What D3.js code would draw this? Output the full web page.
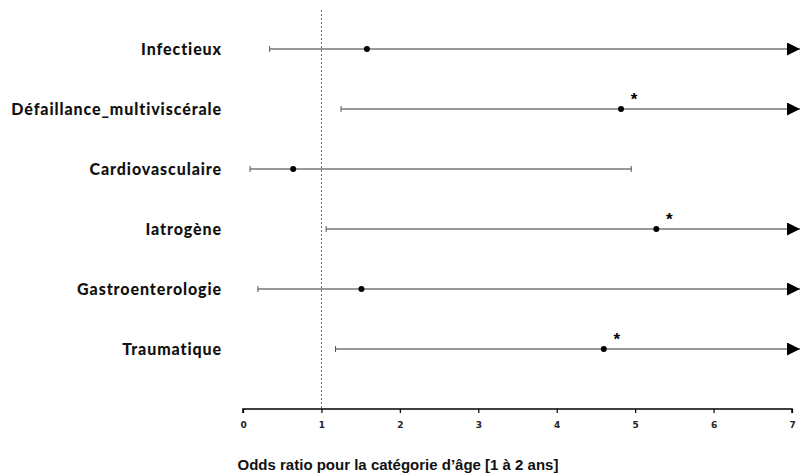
<!DOCTYPE html>
<html><head><meta charset="utf-8">
<script src="https://cdn.jsdelivr.net/npm/d3@7"></script>
<style>body{margin:0;background:#fff}</style>
</head><body>
<svg id="c" width="800" height="474"></svg>
<script>
const categories = ["Infectieux","Défaillance_multiviscérale","Cardiovasculaire","Iatrogène","Gastroenterologie","Traumatique"];
const oddsRatio = [1.58, 4.82, 0.64, 5.27, 1.51, 4.6];
const lowerCI = [0.34, 1.25, 0.09, 1.06, 0.19, 1.18];
const upperCI = [null, null, 4.95, null, null, null]; // null = beyond axis (arrow)
const significant = [false, true, false, true, false, true];
const xTicks = [0,1,2,3,4,5,6,7];
const refLine = 1;
const xTitle = "Odds ratio pour la catégorie d’âge [1 à 2 ans]";

const svg = d3.select("#c");
const x = d3.scaleLinear().domain([0,7]).range([243,792]);
const y = d3.scalePoint().domain(categories).range([49,349]);
const axisY = 409;
const arrowEnd = 800;

svg.append("defs").append("marker").attr("id","arr")
  .attr("viewBox","0 0 10 10").attr("refX",10).attr("refY",5)
  .attr("markerWidth",15).attr("markerHeight",13).attr("markerUnits","userSpaceOnUse")
  .attr("orient","auto")
  .append("path").attr("d","M0,0L10,5L0,10Z").attr("fill","#000");

// reference dashed line
svg.append("line").attr("x1",x(refLine)).attr("x2",x(refLine)).attr("y1",10).attr("y2",axisY)
  .attr("stroke","#666").attr("stroke-width",1).attr("stroke-dasharray","2,2");

// axis
const ax = svg.append("g").attr("transform",`translate(0,${axisY})`)
  .call(d3.axisBottom(x).tickValues(xTicks).tickSize(4).tickFormat(d3.format("d")));
ax.select(".domain").attr("stroke","#000").attr("stroke-width",1.5).attr("d",`M${x(0)},4V0H${x(7)}V4`);
ax.selectAll(".tick line").attr("stroke","#000").attr("stroke-width",1.2);
ax.selectAll(".tick text").attr("font-family","'DejaVu Sans', sans-serif").attr("font-weight","bold")
  .attr("font-size",9).attr("fill","#222").attr("dy","1.3em");

// rows
const rows = categories.map((c,i)=>({c, or:oddsRatio[i], lo:lowerCI[i], hi:upperCI[i], sig:significant[i]}));
const g = svg.append("g");
rows.forEach(r=>{
  const yy = y(r.c);
  const x2 = r.hi==null ? arrowEnd : x(r.hi);
  g.append("line").attr("x1",x(r.lo)).attr("x2",x2).attr("y1",yy).attr("y2",yy)
    .attr("stroke","#777").attr("stroke-width",1.6)
    .attr("marker-end", r.hi==null ? "url(#arr)" : null);
  g.append("line").attr("x1",x(r.lo)).attr("x2",x(r.lo)).attr("y1",yy-3).attr("y2",yy+3)
    .attr("stroke","#555").attr("stroke-width",1);
  if(r.hi!=null) g.append("line").attr("x1",x(r.hi)).attr("x2",x(r.hi)).attr("y1",yy-3).attr("y2",yy+3)
    .attr("stroke","#555").attr("stroke-width",1);
  g.append("circle").attr("cx",x(r.or)).attr("cy",yy).attr("r",3).attr("fill","#000");
  if(r.sig) g.append("text").attr("x",x(r.or)+13).attr("y",yy-4).attr("text-anchor","middle")
    .attr("font-family","'Liberation Sans', Arial, sans-serif").attr("font-weight","bold").attr("font-size",17).text("*");
  g.append("text").attr("x",222).attr("y",yy).attr("dy","0.35em").attr("text-anchor","end")
    .attr("font-family","Lato, 'Open Sans', sans-serif").attr("font-weight","900").attr("font-size",16)
    .attr("letter-spacing",0.9)
    .attr("fill","#111").text(r.c);
});

svg.append("text").attr("x",398).attr("y",470).attr("text-anchor","middle")
  .attr("font-family","'Liberation Sans', Arial, sans-serif").attr("font-weight","bold").attr("font-size",15)
  .attr("fill","#111").text(xTitle);
</script>
</body></html>
